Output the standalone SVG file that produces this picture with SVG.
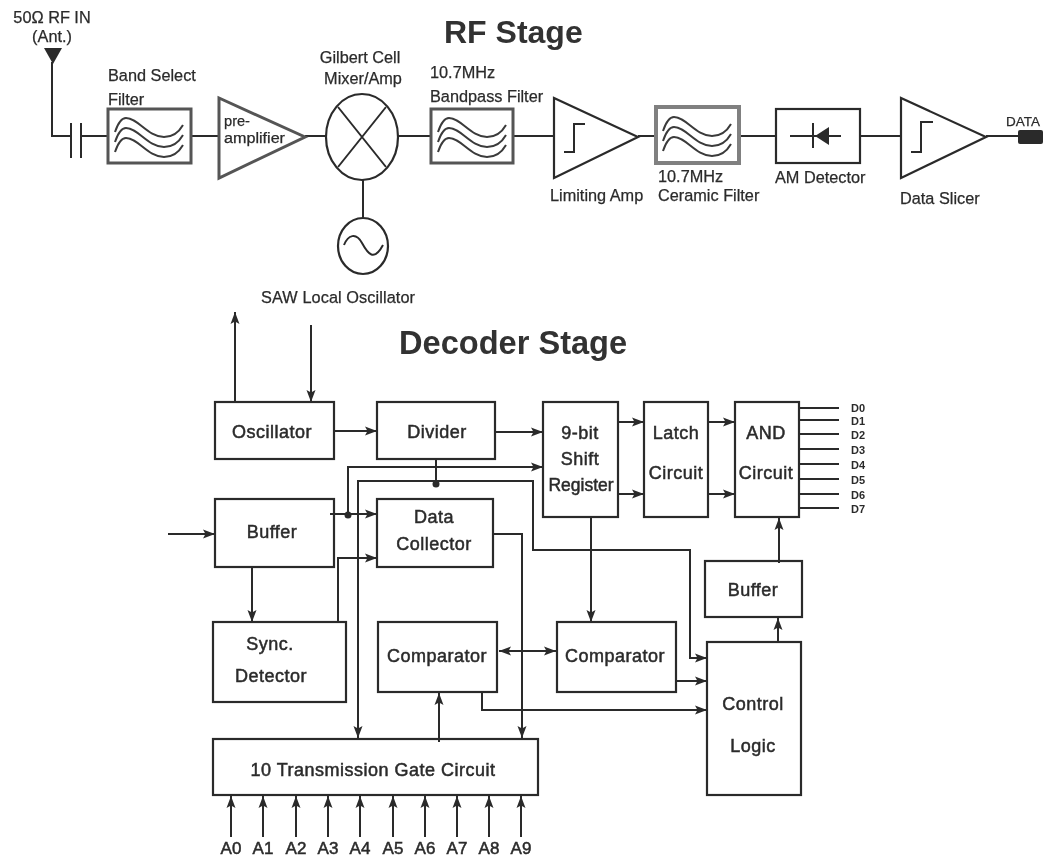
<svg xmlns="http://www.w3.org/2000/svg" width="1043" height="856" viewBox="0 0 1043 856">
<style>
text{font-family:"Liberation Sans",Arial,sans-serif;fill:#2b2b2b;stroke:#2b2b2b;stroke-width:.25}
.s{font-size:16.3px}
.p{font-size:14px}
.m{font-size:18px;letter-spacing:.5px;text-anchor:middle;stroke-width:.5}
.c{text-anchor:middle}
.t{font-size:32px;font-weight:bold;stroke:none;fill:#333}
.d{font-size:11px;font-weight:bold;stroke:none}
.a{font-size:17px;text-anchor:middle;stroke-width:.5}
.b{fill:#fff;stroke:#2b2b2b;stroke-width:2.2}
.g{fill:#fff;stroke:#555;stroke-width:3}
.l{fill:none;stroke:#2b2b2b;stroke-width:2}
.f{fill:#2b2b2b;stroke:none}
.w{fill:none;stroke:#3a3a3a;stroke-width:2}
.e{marker-end:url(#ah)}
.r{marker-start:url(#as)}
</style>
<defs>
<filter id="soft" x="0" y="0" width="100%" height="100%"><feGaussianBlur stdDeviation="0.5"/></filter>
<marker id="ah" markerUnits="userSpaceOnUse" markerWidth="14" markerHeight="10" refX="13" refY="5" orient="auto"><path d="M1 .5L13 5L1 9.5L3.5 5Z" fill="#2b2b2b"/></marker>
<marker id="as" markerUnits="userSpaceOnUse" markerWidth="14" markerHeight="10" refX="13" refY="5" orient="auto-start-reverse"><path d="M1 .5L13 5L1 9.5L3.5 5Z" fill="#2b2b2b"/></marker>
<g id="wave">
<path id="w1" class="w" d="M7 23C10 14 14 9 18 9C30 9 40 28 56 28C65 28 71 23 75 16"/>
<use href="#w1" y="10"/>
<use href="#w1" y="20"/>
</g>
</defs>
<g filter="url(#soft)">
<rect width="1043" height="856" fill="#fff"/>
<g id="titles">
<text class="t" x="444" y="43">RF Stage</text>
<text class="t" x="399" y="354" style="font-size:32.6px">Decoder Stage</text>
</g>

<g id="rf-connectors">
<path class="l" d="M52 62V136H71M81 136H108M191 136H219M305 136H326M398 136H430M513 136H554M638 136H656M739 136H776M860 136H901M986 136H1018M363 180V218"/>
</g>

<g id="antenna">
<path class="f" d="M44 48H62L53 64Z"/>
<text class="s c" x="52" y="23">50Ω RF IN</text>
<text class="s c" x="52" y="42">(Ant.)</text>
</g>
<g id="capacitor"><path class="l" d="M71 123V158M81 123V158"/></g>
<g id="band-select-filter">
<rect class="g" x="108" y="109" width="83" height="54"/>
<use href="#wave" x="108" y="109"/>
<text class="s" x="108" y="81">Band Select</text>
<text class="s" x="108" y="105">Filter</text>
</g>
<g id="pre-amplifier">
<path class="g" d="M219 98V178L305 137Z"/>
<text class="p" x="224" y="126" textLength="26" lengthAdjust="spacingAndGlyphs">pre-</text>
<text class="p" x="224" y="143" textLength="61" lengthAdjust="spacingAndGlyphs">amplifier</text>
</g>
<g id="mixer">
<ellipse class="b" cx="362" cy="137" rx="36" ry="43"/>
<path class="l" d="M338 107L386 167M386 107L338 167"/>
<text class="s c" x="360" y="63">Gilbert Cell</text>
<text class="s c" x="363" y="84">Mixer/Amp</text>
</g>
<g id="saw-oscillator">
<ellipse class="b" cx="363" cy="246" rx="25" ry="28"/>
<path class="l" d="M344 245C348 235 356 232 362 243S374 262 383 245"/>
<text class="s" x="261" y="303" textLength="154">SAW Local Oscillator</text>
</g>
<g id="bandpass-filter">
<rect class="g" x="431" y="109" width="82" height="54"/>
<use href="#wave" x="431" y="109"/>
<text class="s" x="430" y="78">10.7MHz</text>
<text class="s" x="430" y="102">Bandpass Filter</text>
</g>
<g id="limiting-amp">
<path class="b" d="M554 98V178L638 137Z"/>
<path class="l" d="M564 152H574V124H585"/>
<text class="s" x="550" y="201">Limiting Amp</text>
</g>
<g id="ceramic-filter">
<rect fill="#fff" stroke="#808080" stroke-width="4" x="656" y="107" width="83" height="56"/>
<use href="#wave" x="656" y="108"/>
<text class="s" x="658" y="182">10.7MHz</text>
<text class="s" x="658" y="201">Ceramic Filter</text>
</g>
<g id="am-detector">
<rect class="b" x="776" y="109" width="84" height="54"/>
<path class="l" d="M790 136H841M813 123V148"/>
<path class="f" d="M815 136L829 127V145Z"/>
<text class="s" x="775" y="183">AM Detector</text>
</g>
<g id="data-slicer">
<path class="b" d="M901 98V178L986 137Z"/>
<path class="l" d="M911 152H921V122H933"/>
<text class="s" x="900" y="204">Data Slicer</text>
</g>
<g id="data-out">
<rect class="f" x="1018" y="130" width="25" height="14" rx="2"/>
<text x="1006" y="126" font-size="13.5">DATA</text>
</g>

<g id="oscillator"><rect class="b" x="215" y="402" width="119" height="57"/><text class="m" x="272" y="438">Oscillator</text></g>
<g id="divider"><rect class="b" x="377" y="402" width="118" height="57"/><text class="m" x="437" y="438">Divider</text></g>
<g id="shift-register"><rect class="b" x="543" y="402" width="75" height="115"/><text class="m" x="580" y="439">9-bit</text><text class="m" x="580" y="465">Shift</text><text class="m" x="581" y="491" style="letter-spacing:0" textLength="65" lengthAdjust="spacingAndGlyphs">Register</text></g>
<g id="latch"><rect class="b" x="644" y="402" width="64" height="115"/><text class="m" x="676" y="439">Latch</text><text class="m" x="676" y="479">Circuit</text></g>
<g id="and-circuit"><rect class="b" x="735" y="402" width="64" height="115"/><text class="m" x="766" y="439">AND</text><text class="m" x="766" y="479">Circuit</text></g>
<g id="data-labels">
<text class="d" x="851" y="412">D0</text><text class="d" x="851" y="425">D1</text><text class="d" x="851" y="439">D2</text><text class="d" x="851" y="454">D3</text><text class="d" x="851" y="469">D4</text><text class="d" x="851" y="484">D5</text><text class="d" x="851" y="499">D6</text><text class="d" x="851" y="513">D7</text>
</g>
<g id="buffer-in"><rect class="b" x="215" y="499" width="119" height="68"/><text class="m" x="272" y="538">Buffer</text></g>
<g id="data-collector"><rect class="b" x="377" y="499" width="116" height="68"/><text class="m" x="434" y="523">Data</text><text class="m" x="434" y="550">Collector</text></g>
<g id="sync-detector"><rect class="b" x="213" y="622" width="133" height="80"/><text class="m" x="270" y="650">Sync.</text><text class="m" x="271" y="682">Detector</text></g>
<g id="comparator-1"><rect class="b" x="378" y="622" width="119" height="70"/><text class="m" x="437" y="662">Comparator</text></g>
<g id="comparator-2"><rect class="b" x="557" y="622" width="119" height="70"/><text class="m" x="615" y="662">Comparator</text></g>
<g id="buffer-out"><rect class="b" x="705" y="561" width="97" height="56"/><text class="m" x="753" y="596">Buffer</text></g>
<g id="control-logic"><rect class="b" x="707" y="642" width="94" height="153"/><text class="m" x="753" y="710">Control</text><text class="m" x="753" y="752">Logic</text></g>
<g id="transmission-gate"><rect class="b" x="213" y="739" width="325" height="56"/><text class="m" x="373" y="776">10 Transmission Gate Circuit</text></g>
<g id="address-labels">
<text class="a" x="231" y="854">A0</text><text class="a" x="263" y="854">A1</text><text class="a" x="296" y="854">A2</text><text class="a" x="328" y="854">A3</text><text class="a" x="360" y="854">A4</text><text class="a" x="393" y="854">A5</text><text class="a" x="425" y="854">A6</text><text class="a" x="457" y="854">A7</text><text class="a" x="489" y="854">A8</text><text class="a" x="521" y="854">A9</text>
</g>

<g id="decoder-connectors">
<path class="l e" d="M235 402V312"/>
<path class="l e" d="M311 325V402"/>
<path class="l e" d="M334 431H377"/>
<path class="l e" d="M495 432H543"/>
<path class="l e" d="M348 515V467H543"/>
<path class="l" d="M436 459V482"/>
<path class="l e" d="M330 514H377"/>
<path class="l e r" d="M358 738V481H533V550H690V658H707"/>
<path class="l e" d="M168 534H215"/>
<path class="l e" d="M252 567V622"/>
<path class="l e" d="M338 622V558H377"/>
<path class="l e" d="M493 534H522V738"/>
<path class="l e" d="M618 422H644"/>
<path class="l e" d="M618 494H644"/>
<path class="l e" d="M708 422H735"/>
<path class="l e" d="M708 494H735"/>
<path class="l e" d="M591 517V622"/>
<path class="l" d="M799 408H839M799 420H839M799 434H839M799 449H839M799 464H839M799 479H839M799 494H839M799 508H839"/>
<path class="l" style="marker-start:url(#as);marker-end:url(#as)" d="M499 651H556"/>
<path class="l e" d="M482 692V710H707"/>
<path class="l e" d="M676 681H707"/>
<path class="l e" d="M439 742V693"/>
<path class="l e" d="M778 642V618"/>
<path class="l e" d="M779 563V518"/>
<path class="l e" d="M231 837V796"/>
<path class="l e" d="M263 837V796"/>
<path class="l e" d="M296 837V796"/>
<path class="l e" d="M328 837V796"/>
<path class="l e" d="M360 837V796"/>
<path class="l e" d="M393 837V796"/>
<path class="l e" d="M425 837V796"/>
<path class="l e" d="M457 837V796"/>
<path class="l e" d="M489 837V796"/>
<path class="l e" d="M521 837V796"/>
<circle class="f" cx="436" cy="484" r="3.5"/>
<circle class="f" cx="348" cy="515" r="3.5"/>
</g>
</g>
</svg>
